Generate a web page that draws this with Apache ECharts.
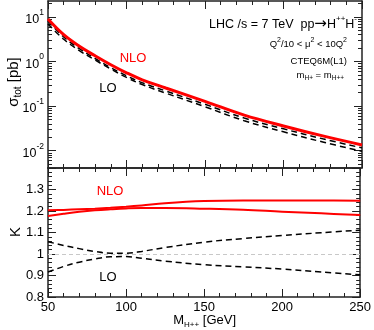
<!DOCTYPE html>
<html><head><meta charset="utf-8">
<script src="https://cdn.jsdelivr.net/npm/echarts@6/dist/echarts.min.js"></script>
<style>html,body{margin:0;padding:0;background:#fff}#c{width:374px;height:330px}</style>
</head><body><div id="c"></div>
<script>
// ---- data ----
const mass = [50, 60, 70, 80, 90, 100, 110, 125, 150, 175, 200, 225, 250];
const sigmaNLO = [9.0, 4.0, 2.2, 1.35, 0.85, 0.56, 0.39, 0.255, 0.128, 0.063, 0.036, 0.0215, 0.0135];
const sigmaLOa = [8.1, 3.56, 1.94, 1.17, 0.73, 0.48, 0.335, 0.219, 0.110, 0.054, 0.031, 0.0185, 0.0116];
const sigmaLOb = [7.0, 3.16, 1.76, 1.08, 0.68, 0.44, 0.305, 0.196, 0.097, 0.047, 0.0266, 0.0157, 0.0097];
const kNLOup = [1.203, 1.205, 1.208, 1.211, 1.215, 1.220, 1.226, 1.236, 1.246, 1.249, 1.249, 1.249, 1.248];
const kNLOdn = [1.177, 1.187, 1.196, 1.203, 1.208, 1.212, 1.214, 1.214, 1.211, 1.206, 1.197, 1.189, 1.181];
const kLOa = [1.057, 1.040, 1.025, 1.012, 1.004, 1.004, 1.012, 1.030, 1.055, 1.072, 1.086, 1.099, 1.111];
const kLOb = [0.916, 0.942, 0.962, 0.977, 0.987, 0.988, 0.980, 0.967, 0.950, 0.940, 0.930, 0.916, 0.903];
const xTicks = [50, 100, 150, 200, 250];
const sigmaTicks = [0.01, 0.1, 1, 10];
const kTicks = [0.8, 0.9, 1, 1.1, 1.2, 1.3];

const sigmaMinor = [];
[0.001, 0.01, 0.1, 1, 10].forEach(function (d) {
  for (let i = 2; i <= 9; i++) { const v = +(d * i).toPrecision(3); if (v > 0.0041 && v < 22.8) sigmaMinor.push(v); }
});

const FONT = 'Liberation Sans';
const AX = '#222';
function pairs(ys) { return mass.map(function (m, i) { return [m, ys[i]]; }); }

function xAx(grid, pos, labels) {
  return {
    type: 'value', gridIndex: grid, position: pos, min: xTicks[0], max: xTicks[xTicks.length - 1], interval: 50,
    axisLine: { show: true, lineStyle: { color: AX, width: 1.5 } },
    axisTick: { show: true, inside: true, length: 8, lineStyle: { color: AX, width: 1 } },
    minorTick: { show: true, splitNumber: 5, length: 4, lineStyle: { color: AX, width: 1 } },
    splitLine: { show: false },
    axisLabel: { show: labels, fontSize: 13, color: '#000', margin: 4, fontFamily: FONT }
  };
}
function logAx(pos, major, labels) {
  return {
    type: 'log', logBase: 10, gridIndex: 0, position: pos, min: 0.0041, max: 22.8,
    axisLine: { show: major, lineStyle: { color: AX, width: 1.5 } },
    axisTick: { show: true, inside: true, length: major ? 8 : 4, customValues: major ? sigmaTicks : sigmaMinor, lineStyle: { color: AX, width: 1 } },
    splitLine: { show: false },
    axisLabel: {
      show: labels, customValues: sigmaTicks, margin: 4, fontFamily: FONT, color: '#000',
      formatter: function (v) { const e = Math.round(Math.log10(v)); return '{b|10}{s|' + e + '}'; },
      rich: {
        b: { fontSize: 12.5, fontFamily: FONT, color: '#000', verticalAlign: 'bottom', lineHeight: 18 },
        s: { fontSize: 8.5, fontFamily: FONT, color: '#000', verticalAlign: 'top', lineHeight: 10 }
      }
    }
  };
}
function kAx(pos, labels) {
  return {
    type: 'value', gridIndex: 1, position: pos, min: 0.8, max: 1.4, interval: 0.1,
    axisLine: { show: true, lineStyle: { color: AX, width: 1.5 } },
    axisTick: { show: true, inside: true, length: 8, lineStyle: { color: AX, width: 1 } },
    minorTick: { show: true, splitNumber: 5, length: 4, lineStyle: { color: AX, width: 1 } },
    splitLine: { show: false },
    axisLabel: {
      show: labels, fontSize: 13, color: '#000', margin: 4, fontFamily: FONT,
      formatter: function (v) { return v > 1.35 ? '' : String(+v.toFixed(1)); }
    }
  };
}

const dashed = { color: '#000', width: 1.5, type: [6, 4] };
function line(xi, yi, ys, style, z) {
  return { type: 'line', xAxisIndex: xi, yAxisIndex: yi, data: pairs(ys), smooth: 0.4, showSymbol: false, lineStyle: style, z: z };
}
const kOne = line(2, 4, kLOa, dashed, 3);
kOne.markLine = { silent: true, symbol: 'none', label: { show: false }, lineStyle: { color: '#c8c8c8', width: 1, type: [4, 3] }, data: [{ yAxis: 1 }] };

const option = {
  animation: false,
  grid: [
    { left: 48, right: 12, top: 1, height: 167 },
    { left: 48, right: 12, top: 168, height: 129 }
  ],
  xAxis: [xAx(0, 'bottom', false), xAx(0, 'top', false), xAx(1, 'bottom', true), xAx(1, 'top', false)],
  yAxis: [logAx('left', true, true), logAx('left', false, false), logAx('right', true, false), logAx('right', false, false),
          kAx('left', true), kAx('right', false)],
  series: [
    line(0, 0, sigmaLOa, dashed, 3),
    line(0, 0, sigmaLOb, dashed, 3),
    line(0, 0, sigmaNLO, { color: '#ff0000', width: 3 }, 4),
    kOne,
    line(2, 4, kLOb, dashed, 3),
    line(2, 4, kNLOup, { color: '#ff0000', width: 2 }, 4),
    line(2, 4, kNLOdn, { color: '#ff0000', width: 2 }, 4)
  ],
  graphic: [
    { type: 'text', x: 15, y: 82, rotation: Math.PI / 2, style: {
      text: '{a|σ}{t|tot}{a| [pb]}', align: 'center', verticalAlign: 'middle',
      rich: { a: { fontSize: 15, fontFamily: FONT, fill: '#000', verticalAlign: 'top', lineHeight: 17 },
              t: { fontSize: 10, fontFamily: FONT, fill: '#000', verticalAlign: 'bottom', lineHeight: 12 } } } },
    { type: 'text', x: 16, y: 232, rotation: Math.PI / 2, style: { text: 'K', fontSize: 15, fontFamily: FONT, fill: '#000', align: 'center', verticalAlign: 'middle' } },
    { type: 'text', x: 236, y: 321, style: {
      text: '{a|M}{t|H++}{a| [GeV]}', align: 'right', verticalAlign: 'middle',
      rich: { a: { fontSize: 13, fontFamily: FONT, fill: '#000', verticalAlign: 'top', lineHeight: 15 },
              t: { fontSize: 8, fontFamily: FONT, fill: '#000', verticalAlign: 'bottom', lineHeight: 10 } } } },
    { type: 'text', x: 133, y: 58, style: { text: 'NLO', fontSize: 13, fontFamily: FONT, fill: '#ff0000', align: 'center', verticalAlign: 'middle' } },
    { type: 'text', x: 108, y: 88, style: { text: 'LO', fontSize: 13, fontFamily: FONT, fill: '#000', align: 'center', verticalAlign: 'middle' } },
    { type: 'text', x: 110, y: 191, style: { text: 'NLO', fontSize: 13, fontFamily: FONT, fill: '#ff0000', align: 'center', verticalAlign: 'middle' } },
    { type: 'text', x: 108, y: 277, style: { text: 'LO', fontSize: 13, fontFamily: FONT, fill: '#000', align: 'center', verticalAlign: 'middle' } },
    { type: 'text', x: 357, y: 23, style: {
      text: '{n|LHC /s = 7 TeV  pp}{a|→}{n|H}{p|++}{n|H}{p|-}', align: 'right', verticalAlign: 'middle',
      rich: { n: { fontSize: 12.5, fontFamily: FONT, fill: '#000', verticalAlign: 'bottom', lineHeight: 16 },
              a: { fontSize: 15, fontFamily: 'DejaVu Sans', fill: '#000', verticalAlign: 'bottom', lineHeight: 17 },
              p: { fontSize: 8, fontFamily: FONT, fill: '#000', verticalAlign: 'top', lineHeight: 9 } } } },
    { type: 'text', x: 347, y: 43, style: {
      text: '{n|Q}{p|2}{n|/10 < μ}{p|2}{n| < 10Q}{p|2}', align: 'right', verticalAlign: 'middle',
      rich: { n: { fontSize: 9.5, fontFamily: FONT, fill: '#000', verticalAlign: 'bottom', lineHeight: 13 },
              p: { fontSize: 7, fontFamily: FONT, fill: '#000', verticalAlign: 'top', lineHeight: 8 } } } },
    { type: 'text', x: 347, y: 61, style: { text: 'CTEQ6M(L1)', fontSize: 9.5, fontFamily: FONT, fill: '#000', align: 'right', verticalAlign: 'middle' } },
    { type: 'text', x: 344, y: 76, style: {
      text: '{n|m}{s|H+}{n| = m}{s|H++}', align: 'right', verticalAlign: 'middle',
      rich: { n: { fontSize: 9.5, fontFamily: FONT, fill: '#000', verticalAlign: 'top', lineHeight: 11 },
              s: { fontSize: 6.5, fontFamily: FONT, fill: '#000', verticalAlign: 'bottom', lineHeight: 8 } } } }
  ]
};
const chart = echarts.init(document.getElementById('c'), null, { renderer: 'canvas' });
chart.setOption(option);
</script></body></html>
